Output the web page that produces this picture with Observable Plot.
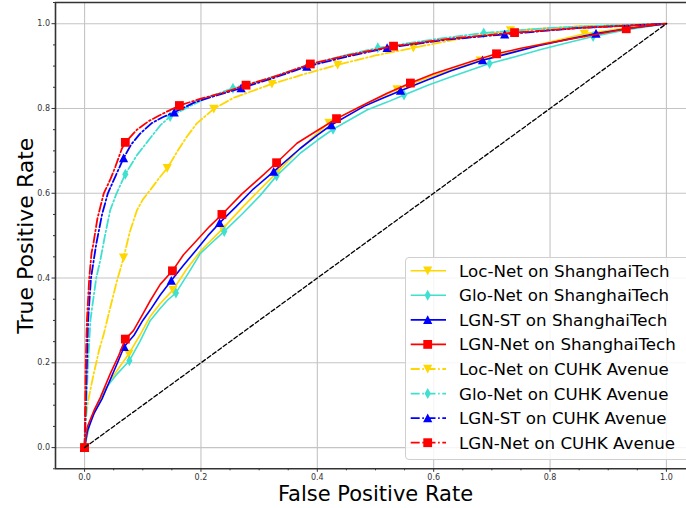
<!DOCTYPE html>
<html><head><meta charset="utf-8">
<script src="https://cdn.jsdelivr.net/npm/d3@7"></script>
<script src="https://cdn.jsdelivr.net/npm/@observablehq/plot@0.6"></script>
<style>
html,body{margin:0;padding:0;background:#fff;overflow:hidden;}
#wrap{position:relative;width:686px;height:508px;overflow:hidden;}
#wrap svg{display:block;}
#legend{position:absolute;left:405px;top:257px;}
</style></head><body><div id="wrap"></div>
<script>
// ---- Data (x = FPR, y = TPR, third value 1 = marker drawn at this point) ----
const seriesNames = [
  "Loc-Net on ShanghaiTech", "Glo-Net on ShanghaiTech", "LGN-ST on ShanghaiTech", "LGN-Net on ShanghaiTech",
  "Loc-Net on CUHK Avenue", "Glo-Net on CUHK Avenue", "LGN-ST on CUHK Avenue", "LGN-Net on CUHK Avenue"
];
const seriesColors = ["#FFD700", "#40E0D0", "#0000FF", "#FF0000", "#FFD700", "#40E0D0", "#0000FF", "#FF0000"];
const seriesMarkers = ["triDown", "thinDiamond", "triUp", "square", "triDown", "thinDiamond", "triUp", "square"];
const seriesDashed = [false, false, false, false, true, true, true, true];

const locST = [[0,0,1],[0.005,0.045],[0.01,0.062],[0.025,0.105],[0.044,0.158],[0.06,0.19],[0.076,0.221,1],[0.095,0.265],[0.113,0.31],[0.13,0.34],[0.152,0.372,1],[0.175,0.42],[0.2,0.465],[0.237,0.516,1],[0.27,0.565],[0.3,0.607],[0.33,0.648,1],[0.37,0.705],[0.42,0.766,1],[0.47,0.802],[0.537,0.845,1],[0.6,0.878],[0.68,0.913,1],[0.76,0.944],[0.859,0.976,1],[0.93,0.99],[1,1]];
const gloST = [[0,0,1],[0.01,0.063],[0.02,0.095],[0.033,0.134],[0.056,0.174],[0.077,0.205,1],[0.095,0.25],[0.113,0.3],[0.128,0.325],[0.142,0.347],[0.157,0.365,1],[0.18,0.415],[0.199,0.458],[0.22,0.485],[0.24,0.51,1],[0.27,0.55],[0.302,0.595],[0.33,0.641,1],[0.371,0.695],[0.4,0.725],[0.427,0.751,1],[0.486,0.797],[0.52,0.815],[0.549,0.832,1],[0.59,0.855],[0.629,0.874],[0.66,0.889],[0.696,0.906,1],[0.74,0.922],[0.784,0.939],[0.83,0.955],[0.874,0.97,1],[0.93,0.985],[1,1]];
const lgnstST = [[0,0,1],[0.005,0.04],[0.016,0.08],[0.03,0.115],[0.044,0.16],[0.058,0.205],[0.068,0.238,1],[0.085,0.265],[0.1,0.3],[0.113,0.325],[0.13,0.36],[0.149,0.394,1],[0.17,0.43],[0.193,0.468],[0.212,0.5],[0.232,0.53,1],[0.26,0.568],[0.29,0.61],[0.325,0.651,1],[0.37,0.705],[0.4,0.737],[0.424,0.761,1],[0.48,0.805],[0.51,0.823],[0.543,0.842,1],[0.59,0.868],[0.63,0.889],[0.684,0.914,1],[0.73,0.93],[0.78,0.948],[0.83,0.963],[0.879,0.977,1],[0.94,0.99],[1,1]];
const lgnnetST = [[0,0,1],[0.004,0.047],[0.016,0.087],[0.027,0.118],[0.044,0.174],[0.058,0.215],[0.07,0.256,1],[0.084,0.276],[0.1,0.315],[0.113,0.347],[0.13,0.385],[0.151,0.417,1],[0.17,0.455],[0.193,0.489],[0.215,0.522],[0.236,0.55,1],[0.27,0.598],[0.302,0.637],[0.33,0.672,1],[0.365,0.718],[0.4,0.748],[0.433,0.776,1],[0.486,0.813],[0.52,0.836],[0.56,0.86,1],[0.6,0.882],[0.629,0.895],[0.67,0.913],[0.708,0.929,1],[0.75,0.942],[0.8,0.955],[0.86,0.97],[0.931,0.988,1],[0.97,0.995],[1,1]];

const locAv = [[0,0,1],[0.001,0.05],[0.006,0.11],[0.015,0.17],[0.025,0.23],[0.033,0.268],[0.044,0.33],[0.055,0.39],[0.067,0.448,1],[0.078,0.51],[0.09,0.56],[0.1,0.585],[0.113,0.608],[0.13,0.639],[0.142,0.659,1],[0.16,0.7],[0.176,0.734],[0.193,0.765],[0.222,0.799,1],[0.256,0.825],[0.302,0.848],[0.322,0.858,1],[0.38,0.882],[0.435,0.903,1],[0.5,0.925],[0.565,0.943,1],[0.65,0.966],[0.732,0.984,1],[0.85,0.994],[1,1]];
const gloAv = [[0,0,1],[0.003,0.1],[0.006,0.2],[0.01,0.3],[0.013,0.331],[0.02,0.4],[0.027,0.442],[0.035,0.5],[0.044,0.56],[0.055,0.6],[0.07,0.645,1],[0.09,0.69],[0.11,0.725],[0.13,0.76],[0.147,0.781,1],[0.18,0.805],[0.215,0.828],[0.255,0.848,1],[0.3,0.864],[0.38,0.9],[0.44,0.923],[0.504,0.943,1],[0.6,0.963],[0.686,0.978,1],[0.8,0.99],[0.9,0.996],[1,1]];
const lgnstAv = [[0,0,1],[0.002,0.1],[0.004,0.2],[0.006,0.3],[0.011,0.4],[0.02,0.48],[0.03,0.55],[0.04,0.6],[0.053,0.64],[0.067,0.683,1],[0.08,0.715],[0.095,0.74],[0.115,0.765],[0.135,0.78],[0.154,0.791,1],[0.19,0.815],[0.23,0.832],[0.269,0.848,1],[0.32,0.87],[0.382,0.899,1],[0.45,0.922],[0.52,0.943,1],[0.62,0.962],[0.722,0.975,1],[0.85,0.99],[1,1]];
const lgnnetAv = [[0,0,1],[0.001,0.1],[0.002,0.2],[0.004,0.3],[0.008,0.4],[0.012,0.46],[0.015,0.48],[0.022,0.54],[0.033,0.6],[0.045,0.635],[0.053,0.663],[0.064,0.705],[0.07,0.72,1],[0.09,0.75],[0.11,0.77],[0.125,0.781],[0.145,0.795],[0.163,0.807,1],[0.2,0.823],[0.24,0.838],[0.2775,0.855,1],[0.33,0.877],[0.388,0.905,1],[0.45,0.925],[0.531,0.947,1],[0.63,0.965],[0.739,0.979,1],[0.85,0.99],[0.93,0.995],[1,1]];

const seriesData = [locST, gloST, lgnstST, lgnnetST, locAv, gloAv, lgnstAv, lgnnetAv];
const chance = [[0,0],[1,1]];

const xMajor = [0, 0.2, 0.4, 0.6, 0.8, 1.0];
const yMajor = [0, 0.2, 0.4, 0.6, 0.8, 1.0];
const xMinor = [0.05,0.1,0.15,0.25,0.3,0.35,0.45,0.5,0.55,0.65,0.7,0.75,0.85,0.9,0.95];
const yMinor = [-0.05,0.05,0.1,0.15,0.25,0.3,0.35,0.45,0.5,0.55,0.65,0.7,0.75,0.85,0.9,0.95,1.05];
const xDomain = [-0.05, 1.05];
const yDomain = [-0.05, 1.05];
const xLabel = "False Positive Rate";
const yLabel = "True Positive Rate";

// ---- Marker shapes (matplotlib-like) ----
const symbols = {
  square: {draw(c, size){ const r = Math.sqrt(size/Math.PI); c.moveTo(-r,-r); c.lineTo(r,-r); c.lineTo(r,r); c.lineTo(-r,r); c.closePath(); }},
  triUp: {draw(c, size){ const r = Math.sqrt(size/Math.PI); c.moveTo(0,-r*1.05); c.lineTo(r*1.05,r*0.95); c.lineTo(-r*1.05,r*0.95); c.closePath(); }},
  triDown: {draw(c, size){ const r = Math.sqrt(size/Math.PI); c.moveTo(0,r*1.05); c.lineTo(r*1.05,-r*0.95); c.lineTo(-r*1.05,-r*0.95); c.closePath(); }},
  thinDiamond: {draw(c, size){ const r = Math.sqrt(size/Math.PI); c.moveTo(0,-r*1.25); c.lineTo(r*0.7,0); c.lineTo(0,r*1.25); c.lineTo(-r*0.7,0); c.closePath(); }}
};
const dashDot = "9,2.6,1.6,2.6";

const marks = [
  Plot.gridX(xMajor, {stroke: "#c4c4c4", strokeOpacity: 1, strokeWidth: 1.1}),
  Plot.gridY(yMajor, {stroke: "#c4c4c4", strokeOpacity: 1, strokeWidth: 1.1}),
];
seriesData.forEach((pts, i) => {
  const rows = pts.map(p => ({x: p[0], y: p[1], m: p[2] === 1}));
  marks.push(Plot.line(rows, {x: "x", y: "y", stroke: seriesColors[i], strokeWidth: seriesDashed[i] ? 1.8 : 1.6,
    strokeDasharray: seriesDashed[i] ? dashDot : null, curve: "linear"}));
  marks.push(Plot.dot(rows.filter(d => d.m), {x: "x", y: "y", fill: seriesColors[i], stroke: "none",
    symbol: symbols[seriesMarkers[i]], r: 4.4}));
});
marks.push(Plot.line(chance, {x: d => d[0], y: d => d[1], stroke: "#000", strokeWidth: 1.3, strokeDasharray: "4.2,2.4"}));
marks.push(
  Plot.ruleX([xDomain[0]], {stroke: "#333", strokeWidth: 1.6}),
  Plot.ruleY([yDomain[0], yDomain[1]], {stroke: "#333", strokeWidth: 1.6}),
  Plot.axisX(xMajor, {anchor: "bottom", tickSize: 3.5, tickPadding: 2, tickFormat: d3.format(".1f"), fontSize: 8, label: null, stroke: "#333", fill: "#333"}),
  Plot.axisX(xMinor, {anchor: "bottom", tickSize: 2, tickFormat: () => "", label: null, stroke: "#333"}),
  Plot.axisY(yMajor, {anchor: "left", tickSize: 3.5, tickPadding: 2, tickFormat: d3.format(".1f"), fontSize: 8, label: null, stroke: "#333", fill: "#333"}),
  Plot.axisY(yMinor, {anchor: "left", tickSize: 2, tickFormat: () => "", label: null, stroke: "#333"}),
  Plot.text([xLabel], {x: () => (xDomain[0] + xDomain[1]) / 2, frameAnchor: "bottom", dy: 25, text: d => d, fontSize: 21, fill: "#000", textAnchor: "middle", lineAnchor: "middle"}),
  Plot.text([yLabel], {y: () => (yDomain[0] + yDomain[1]) / 2, frameAnchor: "left", dx: -30, rotate: -90, text: d => d, fontSize: 22, fill: "#000", textAnchor: "middle", lineAnchor: "middle"})
);

const chart = Plot.plot({
  width: 686, height: 508,
  marginLeft: 55, marginRight: 0, marginTop: 2, marginBottom: 39.7,
  x: {domain: xDomain, range: [55, 695], axis: null},
  y: {domain: yDomain, range: [468.3, 2], axis: null},
  style: {fontFamily: "DejaVu Sans", background: "#fff", overflow: "hidden"},
  marks
});
const wrap = document.getElementById("wrap");
wrap.appendChild(chart);

// ---- Legend (overlay) ----
const lg = d3.select(wrap).append("svg").attr("id", "legend").attr("width", 290).attr("height", 204)
  .style("font-family", "DejaVu Sans");
lg.append("rect").attr("x", 0.5).attr("y", 0.5).attr("width", 300).attr("height", 202).attr("rx", 3.5)
  .attr("fill", "#fff").attr("fill-opacity", 0.85).attr("stroke", "#cfcfcf").attr("stroke-width", 1);
seriesNames.forEach((name, i) => {
  const y = 13.7 + i * 24.57;
  lg.append("line").attr("x1", 5.7).attr("x2", 41).attr("y1", y).attr("y2", y)
    .attr("stroke", seriesColors[i]).attr("stroke-width", seriesDashed[i] ? 1.8 : 1.6)
    .attr("stroke-dasharray", seriesDashed[i] ? dashDot : null);
  lg.append("path").attr("transform", `translate(22.7,${y})`)
    .attr("d", d3.symbol(symbols[seriesMarkers[i]], Math.PI * 4.4 * 4.4)())
    .attr("fill", seriesColors[i]);
  lg.append("text").attr("x", 54).attr("y", y).attr("dy", "0.36em").attr("font-size", 16.7).attr("fill", "#000").text(name);
});
</script></body></html>
